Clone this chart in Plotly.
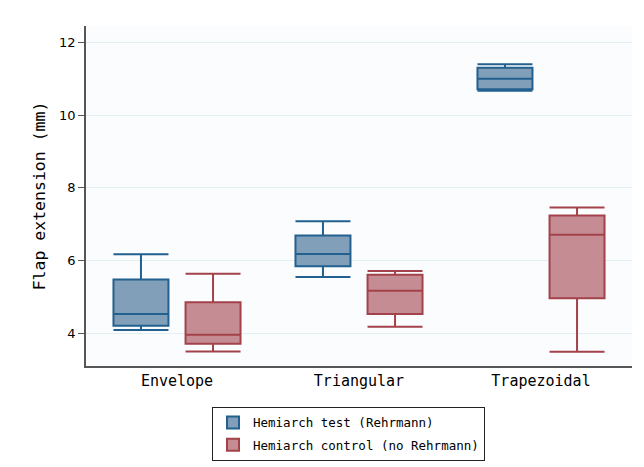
import plotly.graph_objects as go

categories = ["Envelope", "Triangular", "Trapezoidal"]

test_name = "Hemiarch test (Rehrmann)"
test_lower = [4.09, 5.55, 10.67]
test_q1 = [4.21, 5.84, 10.71]
test_median = [4.53, 6.18, 11.00]
test_q3 = [5.48, 6.69, 11.30]
test_upper = [6.17, 7.08, 11.40]

ctrl_name = "Hemiarch control (no Rehrmann)"
ctrl_lower = [3.50, 4.18, 3.49]
ctrl_q1 = [3.71, 4.53, 4.96]
ctrl_median = [3.96, 5.17, 6.71]
ctrl_q3 = [4.85, 5.61, 7.24]
ctrl_upper = [5.64, 5.71, 7.46]

y_ticks = [4, 6, 8, 10, 12]

mono = "DejaVu Sans Mono"

fig = go.Figure()
fig.add_trace(go.Box(
    name=test_name, x=categories, legendgroup="test",
    q1=test_q1, median=test_median, q3=test_q3,
    lowerfence=test_lower, upperfence=test_upper,
    fillcolor="#819fb8", line=dict(color="#22608f", width=2),
    whiskerwidth=1.0, boxpoints=False,
))
fig.add_trace(go.Box(
    name=ctrl_name, x=categories, legendgroup="ctrl",
    q1=ctrl_q1, median=ctrl_median, q3=ctrl_q3,
    lowerfence=ctrl_lower, upperfence=ctrl_upper,
    fillcolor="#c58c93", line=dict(color="#a3424a", width=2),
    whiskerwidth=1.0, boxpoints=False,
))

# the page body keeps an 8px default margin, so the figure is sized/offset to fit the window
fig.update_layout(
    width=636, height=459,
    boxmode="group", boxgap=0.208, boxgroupgap=0.237,
    paper_bgcolor="white", plot_bgcolor="#fbfcfe",
    margin=dict(l=78, r=12, t=18, b=101, autoexpand=False),
    font=dict(family=mono, size=14, color="black"),
    legend=dict(
        orientation="v", x=(212 - 86) / 546, xanchor="left", y=-0.12, yanchor="top",
        bordercolor="#222222", borderwidth=1, bgcolor="white",
        font=dict(family=mono, size=12.5),
        traceorder="grouped", tracegroupgap=3,
    ),
    showlegend=True,
)
fig.update_xaxes(
    type="category", range=[-0.5, 2.5], automargin=False,
    showline=True, linecolor="#555555", linewidth=1.5,
    ticks="", showgrid=False,
    tickfont=dict(family=mono, size=15, color="black"),
)
fig.update_yaxes(
    range=[3.1, 12.45], tickvals=y_ticks, automargin=False,
    showline=True, linecolor="#555555", linewidth=1.5,
    ticks="outside", ticklen=6, tickcolor="#555555",
    showgrid=True, gridcolor="#e2eff3", gridwidth=1,
    zeroline=False,
    tickfont=dict(family="DejaVu Sans", size=13, color="black"),
    title=dict(text="Flap extension (mm)", font=dict(family=mono, size=16.5), standoff=9),
)

fig.write_html("out.html")
